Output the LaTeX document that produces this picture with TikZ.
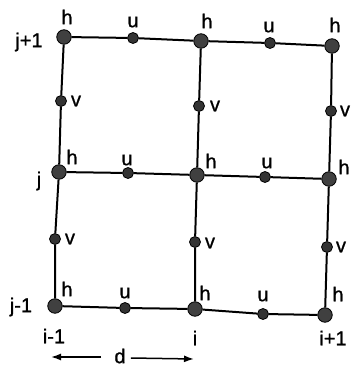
\documentclass[tikz,border=0pt]{standalone}
\usepackage{fontspec}
\setmainfont{Liberation Sans}
\newfontfamily\labfont[FakeBold=1]{Liberation Sans}
\usetikzlibrary{arrows.meta}
\begin{document}
\begin{tikzpicture}[x=1pt,y=-1pt,
  hdot/.style={circle,draw=black,line width=0.8pt,fill=black!75,minimum size=14.5pt,inner sep=0pt},
  sdot/.style={circle,draw=black,line width=0.8pt,fill=black!80,minimum size=11pt,inner sep=0pt},
  lab/.style={font=\labfont\fontsize{20pt}{20pt}\selectfont,inner sep=0pt},
  grid line/.style={line width=2pt,black},
  dim/.style={line width=1.5pt,-{Latex[length=10pt,width=7pt]}}]
\useasboundingbox (0,0) rectangle (351,369);
% h nodes
\node[hdot] (h02) at (64,37) {};
\node[hdot] (h12) at (201,41) {};
\node[hdot] (h22) at (332,46) {};
\node[hdot] (h01) at (59,172) {};
\node[hdot] (h11) at (197,175) {};
\node[hdot] (h21) at (329,179) {};
\node[hdot] (h00) at (55,306) {};
\node[hdot] (h10) at (195,309) {};
\node[hdot] (h20) at (325,315) {};
% u nodes
\node[sdot] (u02) at (133,38) {};
\node[sdot] (u12) at (270,43) {};
\node[sdot] (u01) at (128,173) {};
\node[sdot] (u11) at (265,177) {};
\node[sdot] (u00) at (125,308) {};
\node[sdot] (u10) at (263,314) {};
% v nodes
\node[sdot] (v01) at (61,101) {};
\node[sdot] (v00) at (55,239) {};
\node[sdot] (v11) at (199,106) {};
\node[sdot] (v10) at (195,242) {};
\node[sdot] (v21) at (331,111) {};
\node[sdot] (v20) at (327,247) {};
% connectors
\draw[grid line] (h02) -- (u02) -- (h12) -- (u12) -- (h22);
\draw[grid line] (h01) -- (u01) -- (h11) -- (u11) -- (h21);
\draw[grid line] (h00) -- (u00) -- (h10) -- (u10) -- (h20);
\draw[grid line] (h02) -- (v01) -- (h01) -- (v00) -- (h00);
\draw[grid line] (h12) -- (v11) -- (h11) -- (v10) -- (h10);
\draw[grid line] (h22) -- (v21) -- (h21) -- (v20) -- (h20);
% h labels
\node[lab] (lh02) at (67,17) {h};
\node[lab] (lh12) at (207,21) {h};
\node[lab] (lh22) at (335,25) {h};
\node[lab] (lh01) at (72,157) {h};
\node[lab] (lh11) at (211,161) {h};
\node[lab] (lh21) at (344,167) {h};
\node[lab] (lh00) at (67,289) {h};
\node[lab] (lh10) at (205,293) {h};
\node[lab] (lh20) at (338,294) {h};
% u labels
\node[lab] (lu02) at (133,22) {u};
\node[lab] (lu12) at (269,27) {u};
\node[lab] (lu01) at (127,160) {u};
\node[lab] (lu11) at (267,163) {u};
\node[lab] (lu00) at (125,293) {u};
\node[lab] (lu10) at (263,296) {u};
% v labels
\node[lab] (lv01) at (76,101) {v};
\node[lab] (lv00) at (70,239) {v};
\node[lab] (lv11) at (215,106) {v};
\node[lab] (lv10) at (210,243) {v};
\node[lab] (lv21) at (345,111) {v};
\node[lab] (lv20) at (341,247) {v};
% index labels
\node[lab] (jp) at (29,42) {j+1};
\node[lab] (j) at (39,181) {j};
\node[lab] (jm) at (21,307) {j-1};
\node[lab] (im) at (54,336) {i-1};
\node[lab] (i) at (195,338) {i};
\node[lab] (ip) at (333,338) {i+1};
% spacing d
\node[lab] (d) at (120,356) {d};
\coordinate (dl) at (51,357);
\coordinate (dr) at (194,359);
\draw[dim] (101,357) -- (dl);
\draw[dim] (d.east) ++(5,2) -- (dr);
\end{tikzpicture}
\end{document}
